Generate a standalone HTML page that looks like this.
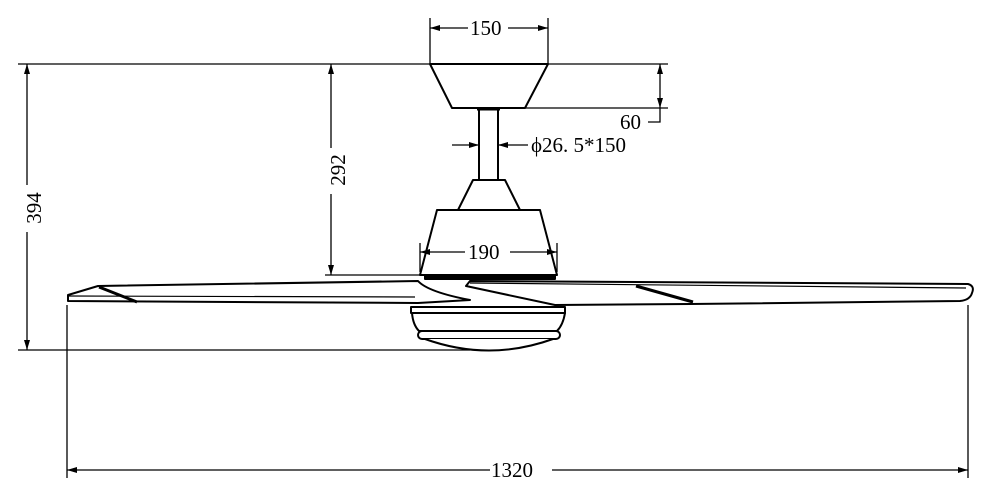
<!DOCTYPE html>
<html><head><style>body{margin:0;background:#fff}svg{display:block}text{font-family:"Liberation Serif",serif;font-size:21px;fill:#000}</style></head><body>
<svg width="990" height="498" viewBox="0 0 990 498" xmlns="http://www.w3.org/2000/svg">
<defs><marker id="a" viewBox="0 0 10 6" refX="10" refY="3" markerWidth="10" markerHeight="6" orient="auto-start-reverse" markerUnits="userSpaceOnUse"><path d="M0,0L10,3L0,6z"/></marker></defs>
<g stroke="#000" stroke-width="1.3" fill="none">
<line x1="18" y1="64" x2="668" y2="64"/>
<line x1="525" y1="108" x2="668" y2="108"/>
<line x1="18" y1="350" x2="470" y2="350"/>
<line x1="325" y1="275" x2="420" y2="275"/>
<line x1="430" y1="18" x2="430" y2="64"/><line x1="548" y1="18" x2="548" y2="64"/>
<line x1="430" y1="28" x2="468" y2="28" marker-start="url(#a)"/><line x1="508" y1="28" x2="548" y2="28" marker-end="url(#a)"/>
<line x1="660" y1="64" x2="660" y2="108" marker-start="url(#a)" marker-end="url(#a)"/>
<polyline points="660,108 660,122 648,122"/>
<line x1="452" y1="145" x2="479" y2="145" marker-end="url(#a)"/>
<line x1="528" y1="145" x2="498" y2="145" marker-end="url(#a)"/>
<line x1="331" y1="64" x2="331" y2="148" marker-start="url(#a)"/><line x1="331" y1="194" x2="331" y2="275" marker-end="url(#a)"/>
<line x1="27" y1="64" x2="27" y2="185" marker-start="url(#a)"/><line x1="27" y1="232" x2="27" y2="350" marker-end="url(#a)"/>
<line x1="67" y1="305" x2="67" y2="478"/><line x1="968" y1="305" x2="968" y2="478"/>
<line x1="67" y1="470" x2="490" y2="470" marker-start="url(#a)"/><line x1="552" y1="470" x2="968" y2="470" marker-end="url(#a)"/>
</g>
<g stroke="#000" stroke-width="2" fill="#fff" stroke-linejoin="round">
<polygon points="430,64 548,64 525,108 452,108"/>
<rect x="479" y="108" width="19" height="72"/>
<line x1="477" y1="109" x2="500" y2="109" stroke-width="3"/>
<polygon points="473,180 505,180 520,210 458,210"/>
<polygon points="437,210 540,210 557,275 420,275"/>
<rect x="425" y="275" width="130" height="4" fill="#000"/>
<path d="M68,295 L98,286 L418,281 Q428,292 470,300 L418,303 L68,301 Z"/>
<line x1="68" y1="296" x2="415" y2="297" stroke-width="1.2"/>
<line x1="99" y1="287" x2="137" y2="302" stroke-width="3"/>
<path d="M466,286 L470,281 L968,284 Q975,286 972,293 Q970,300 960,301 L690,304 L555,305 Z"/>
<line x1="470" y1="283" x2="966" y2="288" stroke-width="1.2"/>
<line x1="636" y1="286" x2="693" y2="302" stroke-width="3"/>
<rect x="411" y="307" width="154" height="6"/>
<path d="M412,313 L565,313 Q563,325 557,331 L419,331 Q413,325 412,313 Z"/>
<rect x="418" y="331" width="142" height="8" rx="4"/>
<path d="M425,339 Q489,362 553,339"/>
</g>
<g stroke="#000" stroke-width="1.3" fill="none">
<line x1="420" y1="243" x2="420" y2="272"/><line x1="557" y1="243" x2="557" y2="272"/>
<line x1="420" y1="252" x2="465" y2="252" marker-start="url(#a)"/><line x1="510" y1="252" x2="557" y2="252" marker-end="url(#a)"/>
</g>
<text x="470" y="35">150</text>
<text x="620" y="129">60</text>
<text x="531" y="152">ϕ26. 5*150</text>
<text x="468" y="259">190</text>
<text x="491" y="477">1320</text>
<text transform="translate(345,170) rotate(-90)" text-anchor="middle">292</text>
<text transform="translate(41,208) rotate(-90)" text-anchor="middle">394</text>
</svg>
</body></html>
